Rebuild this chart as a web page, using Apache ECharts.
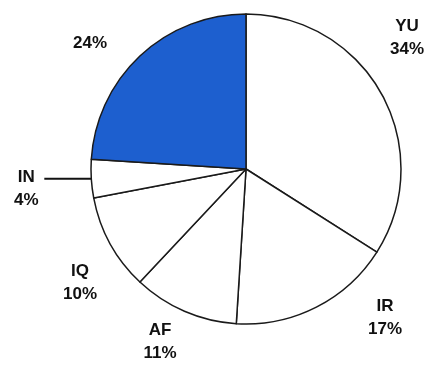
<!DOCTYPE html>
<html><head><meta charset="utf-8">
<script src="https://cdn.jsdelivr.net/npm/echarts@6/dist/echarts.min.js"></script>
<style>html,body{margin:0;padding:0;background:#fff}#c{width:438px;height:372px}</style>
</head><body><div id="c"></div>
<script>
const categories = ['YU', 'IR', 'AF', 'IQ', 'IN', ''];
const values = [34, 17, 11, 10, 4, 24];
const colors = ['#ffffff', '#ffffff', '#ffffff', '#ffffff', '#ffffff', '#1d5fcf'];

// label anchor placements by data index (text layout only); IN keeps its leader line
const labelPos = [[407, 38], [385, 318], [160, 342], [80, 283], null, [90, 43]];

const chart = echarts.init(document.getElementById('c'), null, {renderer: 'canvas'});
const data = categories.map((n, i) => ({
  name: n,
  value: values[i],
  itemStyle: {color: colors[i]},
  labelLine: n === 'IN' ? {show: true, length: 0, length2: 47, lineStyle: {color: '#111', width: 2}} : {show: false}
}));
chart.setOption({
  animation: false,
  series: [{
    type: 'pie',
    center: [246, 169],
    radius: 155,
    startAngle: 90,
    clockwise: true,
    data: data,
    itemStyle: {borderColor: '#1a1a1a', borderWidth: 1.5},
    label: {
      show: true,
      position: 'outside',
      color: '#111',
      fontFamily: 'Liberation Sans, Arial, sans-serif',
      fontSize: 17,
      fontWeight: 'bold',
      lineHeight: 23,
      overflow: 'none',
      distanceToLabelLine: 4,
      formatter: p => p.name === 'IN' ? '{s|}\n{w|' + p.name + '}\n{w|' + p.value + '%}'
        : (p.name ? p.name + '\n' : '') + p.value + '%',
      rich: {
        s: {height: 20, lineHeight: 20},
        w: {width: 28, align: 'center', fontSize: 17, fontWeight: 'bold', lineHeight: 23,
            color: '#111', fontFamily: 'Liberation Sans, Arial, sans-serif'}
      }
    },
    labelLine: {show: false},
    labelLayout: function (p) {
      const pos = labelPos[p.dataIndex];
      if (!pos) return {};
      return {x: pos[0], y: pos[1], align: 'center', verticalAlign: 'middle'};
    }
  }]
});
</script></body></html>
